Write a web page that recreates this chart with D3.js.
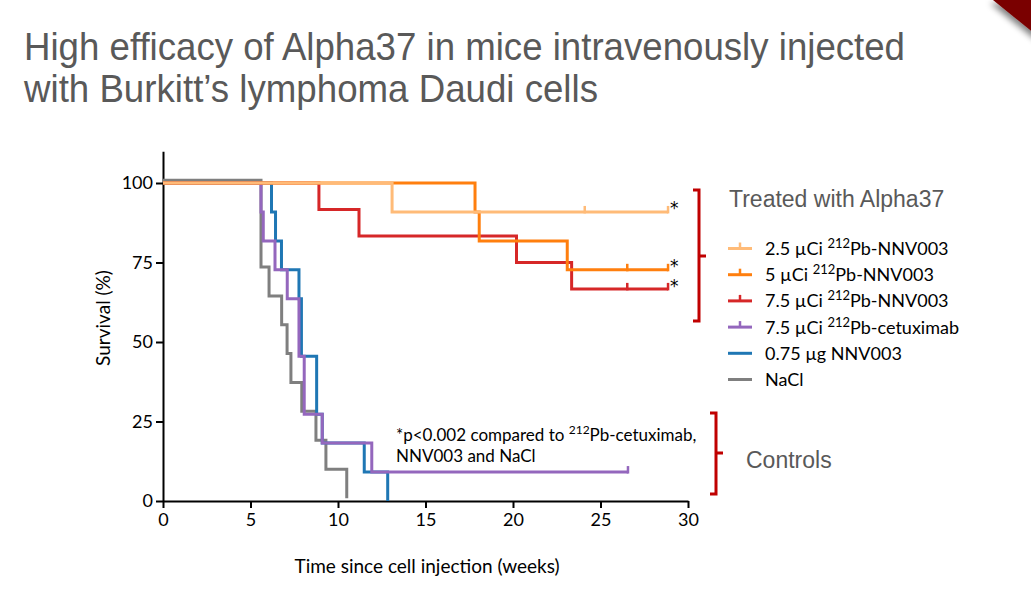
<!DOCTYPE html>
<html><head><meta charset="utf-8">
<script src="https://cdn.jsdelivr.net/npm/d3@7"></script>
<style>
html,body{margin:0;padding:0;background:#fff;}
svg{display:block;}
</style></head>
<body>
<svg id="chart" width="1031" height="597"></svg>
<script>
// ---------- data ----------
const titleLines = ["High efficacy of Alpha37 in mice intravenously injected", "with Burkitt\u2019s lymphoma Daudi cells"];
const xTicks = [0, 5, 10, 15, 20, 25, 30];
const yTicks = [0, 25, 50, 75, 100];
const xLabel = "Time since cell injection (weeks)";
const yLabel = "Survival (%)";

const seriesKeys = ["pb25", "pb5", "pb75", "cetux", "nnv", "nacl"];
const legendPrefix = ["2.5 \u00b5Ci ", "5 \u00b5Ci ", "7.5 \u00b5Ci ", "7.5 \u00b5Ci ", "0.75 \u00b5g NNV003", "NaCl"];
const legendSup = ["212", "212", "212", "212", "", ""];
const legendSuffix = ["Pb-NNV003", "Pb-NNV003", "Pb-NNV003", "Pb-cetuximab", "", ""];

// Kaplan-Meier step data (weeks, survival %)
const pb25Times = [0, 13.09, 28.86];
const pb25Surv = [100, 90.9, 90.9];
const pb25Censor = [24.1, 28.86];

const pb5Times = [0, 17.83, 18.07, 23.1, 28.86];
const pb5Surv = [100, 90.9, 81.8, 72.7, 72.7];
const pb5Censor = [26.53, 28.86];

const pb75Times = [0, 8.91, 11.2, 20.2, 23.35, 28.86];
const pb75Surv = [100, 91.7, 83.3, 75, 66.7, 66.7];
const pb75Censor = [26.53, 28.86];

const cetuxTimes = [0, 5.6, 5.73, 6.4, 7.1, 7.77, 8.07, 9.1, 11.93, 26.57];
const cetuxSurv = [100, 90.9, 81.8, 72.7, 63.6, 45.5, 27.3, 18.2, 9.1, 9.1];
const cetuxCensor = [26.57];

const nnvTimes = [0, 6.2, 6.43, 6.77, 7.77, 7.91, 8.78, 9.1, 11.5, 12.84];
const nnvSurv = [100, 90.9, 81.8, 72.7, 63.6, 45.5, 27.3, 18.2, 9.1, 0];

const naclTimes = [0, 5.6, 6.06, 6.78, 7.09, 7.31, 7.93, 8.74, 9.31, 10.5];
const naclSurv = [100.9, 73.6, 64.5, 55.4, 46.4, 37.3, 28.2, 19.1, 10.0, 0.9];

const asteriskLevels = [90.9, 72.7, 66.7];
const noteLine1 = ["*p<0.002 compared to ", "212", "Pb-cetuximab,"];
const noteLine2 = "NNV003 and NaCl";
const groupTreated = "Treated with Alpha37";
const groupControls = "Controls";

// ---------- setup ----------
const colors = {pb25: "#ffbb78", pb5: "#ff7f0e", pb75: "#d62728", cetux: "#9467bd", nnv: "#1f77b4", nacl: "#7f7f7f"};
const seriesData = {
  pb25: {t: pb25Times, s: pb25Surv, c: pb25Censor},
  pb5: {t: pb5Times, s: pb5Surv, c: pb5Censor},
  pb75: {t: pb75Times, s: pb75Surv, c: pb75Censor},
  cetux: {t: cetuxTimes, s: cetuxSurv, c: cetuxCensor},
  nnv: {t: nnvTimes, s: nnvSurv, c: []},
  nacl: {t: naclTimes, s: naclSurv, c: []}
};
const drawOrder = ["nacl", "nnv", "cetux", "pb75", "pb5", "pb25"];

const svg = d3.select("#chart");
svg.append("rect").attr("width", 1031).attr("height", 597).attr("fill", "#fff");

const FONT = "Lato, 'Open Sans', sans-serif";
const TFONT = "'Liberation Sans', Arial, sans-serif";

// corner decoration
const defs = svg.append("defs");
const f = defs.append("filter").attr("id", "sh").attr("x", "-50%").attr("y", "-50%").attr("width", "200%").attr("height", "200%");
f.append("feGaussianBlur").attr("in", "SourceAlpha").attr("stdDeviation", 3);
f.append("feOffset").attr("dx", -3).attr("dy", 3).attr("result", "o");
f.append("feComponentTransfer").append("feFuncA").attr("type", "linear").attr("slope", 0.5);
const fm = f.append("feMerge"); fm.append("feMergeNode"); fm.append("feMergeNode").attr("in", "SourceGraphic");
svg.append("polygon").attr("points", "993,0 1040,0 1040,38").attr("fill", "#7a0000").attr("filter", "url(#sh)");

// title
const titleY = [60, 102];
const titleW = [881, 574];
titleLines.forEach((t, i) => {
  svg.append("text").attr("x", 24).attr("y", titleY[i]).text(t)
    .attr("font-family", TFONT).attr("font-size", 39).attr("fill", "#595959")
    .attr("textLength", titleW[i]).attr("lengthAdjust", "spacingAndGlyphs");
});
svg.append("circle").attr("cx", 28).attr("cy", 89).attr("r", 0.8).attr("fill", "#3050ff");

// scales
const x = d3.scaleLinear().domain([0, 30]).range([163, 688]);
const y = d3.scaleLinear().domain([0, 110]).range([501, 151.2]);

// axes
const gx = svg.append("g").attr("transform", "translate(0,501)")
  .call(d3.axisBottom(x).tickValues(xTicks).tickSize(7).tickPadding(5).tickSizeOuter(0));
const gy = svg.append("g").attr("transform", "translate(163,0)")
  .call(d3.axisLeft(y).tickValues(yTicks).tickSize(7).tickPadding(3).tickSizeOuter(0));
[gx, gy].forEach(g => {
  g.select(".domain").attr("stroke", "#000").attr("stroke-width", 2);
  g.selectAll(".tick line").attr("stroke", "#000").attr("stroke-width", 2);
  g.selectAll(".tick text").attr("font-family", FONT).attr("font-size", 18).attr("fill", "#000");
});

svg.append("text").attr("x", 427).attr("y", 573).attr("text-anchor", "middle")
  .attr("font-family", FONT).attr("font-size", 19).text(xLabel);
svg.append("text").attr("transform", "translate(110,318) rotate(-90)").attr("text-anchor", "middle")
  .attr("font-family", FONT).attr("font-size", 19).text(yLabel);

// curves
const line = d3.line().x(d => x(d[0])).y(d => y(d[1])).curve(d3.curveStepAfter);
drawOrder.forEach(k => {
  const d = seriesData[k];
  const pts = d.t.map((t, i) => [t, d.s[i]]);
  svg.append("path").attr("d", line(pts)).attr("fill", "none")
    .attr("stroke", colors[k]).attr("stroke-width", 3);
  d.c.forEach(ct => {
    let lvl = d.s[0];
    d.t.forEach((t, i) => { if (t <= ct) lvl = d.s[i]; });
    svg.append("line").attr("x1", x(ct)).attr("x2", x(ct))
      .attr("y1", y(lvl) + 1.5).attr("y2", y(lvl) - 6)
      .attr("stroke", colors[k]).attr("stroke-width", 2.5);
  });
});

// asterisks
asteriskLevels.forEach((lv, i) => {
  svg.append("text").attr("x", x(28.86) + 2).attr("y", y(lv) + [2, 2, 3][i])
    .attr("font-family", "'DejaVu Sans', sans-serif").attr("font-size", 17).text("*");
});

// note
const n1 = svg.append("text").attr("x", 396).attr("y", 441).attr("font-family", FONT).attr("font-size", 17);
n1.append("tspan").text(noteLine1[0]);
n1.append("tspan").attr("dy", -7).attr("font-size", 12).text(noteLine1[1]);
n1.append("tspan").attr("dy", 7).text(noteLine1[2]);
svg.append("text").attr("x", 396).attr("y", 462).attr("font-family", FONT).attr("font-size", 17).text(noteLine2);

// legend
const legY0 = 248.5, legDy = 26.2;
seriesKeys.forEach((k, i) => {
  const ly = legY0 + i * legDy;
  svg.append("line").attr("x1", 728).attr("x2", 752).attr("y1", ly).attr("y2", ly)
    .attr("stroke", colors[k]).attr("stroke-width", 3);
  if (seriesData[k].c.length) {
    svg.append("line").attr("x1", 740).attr("x2", 740).attr("y1", ly).attr("y2", ly - 6)
      .attr("stroke", colors[k]).attr("stroke-width", 2.5);
  }
  const t = svg.append("text").attr("x", 765).attr("y", ly + 6.5).attr("font-family", FONT).attr("font-size", 18);
  t.append("tspan").text(legendPrefix[i]);
  if (legendSup[i]) {
    t.append("tspan").attr("dy", -7).attr("font-size", 13).text(legendSup[i]);
    t.append("tspan").attr("dy", 7).text(legendSuffix[i]);
  }
});

svg.append("text").attr("x", 729).attr("y", 207).attr("font-family", TFONT).attr("font-size", 23)
  .attr("fill", "#595959").text(groupTreated);
svg.append("text").attr("x", 746).attr("y", 468).attr("font-family", TFONT).attr("font-size", 23)
  .attr("fill", "#595959").text(groupControls);

// brackets
function bracket(xv, top, bot, mid) {
  const p = `M${xv - 6},${top} L${xv},${top} L${xv},${bot} L${xv - 6},${bot} M${xv},${mid} L${xv + 7},${mid}`;
  svg.append("path").attr("d", p).attr("fill", "none").attr("stroke", "#c00000").attr("stroke-width", 3);
}
bracket(699, 190, 321, 256);
bracket(716, 413, 494, 453);
</script>
</body></html>
